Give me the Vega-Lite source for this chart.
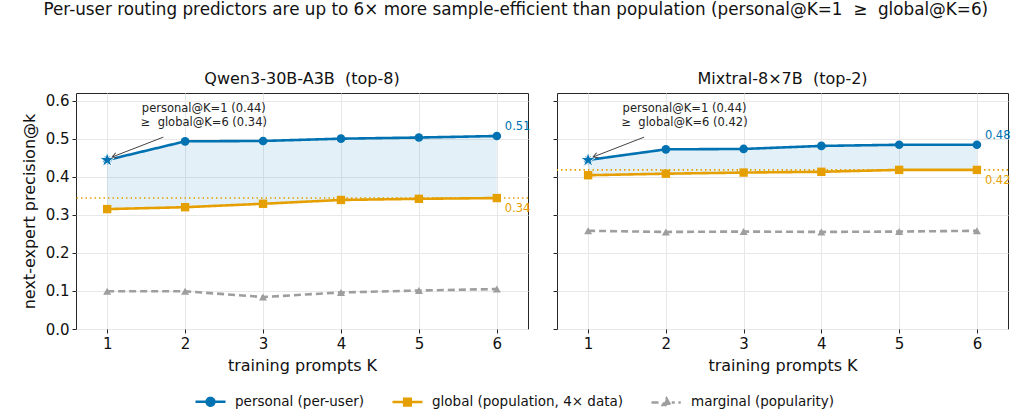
{
  "$schema": "https://vega.github.io/schema/vega-lite/v6.json",
  "background": "white",
  "padding": {"left": 20, "top": 1, "right": 5, "bottom": 0},
  "title": {
    "text": "Per-user routing predictors are up to 6× more sample-efficient than population (personal@K=1 \u00a0≥\u00a0 global@K=6)",
    "fontSize": 16.8,
    "fontWeight": "normal",
    "anchor": "middle",
    "frame": "bounds",
    "offset": 52
  },
  "datasets": {
    "main": [
      {"model": "Qwen3-30B-A3B", "series": "personal", "K": 1, "value": 0.444},
      {"model": "Qwen3-30B-A3B", "series": "personal", "K": 2, "value": 0.493},
      {"model": "Qwen3-30B-A3B", "series": "personal", "K": 3, "value": 0.494},
      {"model": "Qwen3-30B-A3B", "series": "personal", "K": 4, "value": 0.500},
      {"model": "Qwen3-30B-A3B", "series": "personal", "K": 5, "value": 0.503},
      {"model": "Qwen3-30B-A3B", "series": "personal", "K": 6, "value": 0.507},
      {"model": "Qwen3-30B-A3B", "series": "global", "K": 1, "value": 0.315},
      {"model": "Qwen3-30B-A3B", "series": "global", "K": 2, "value": 0.320},
      {"model": "Qwen3-30B-A3B", "series": "global", "K": 3, "value": 0.329},
      {"model": "Qwen3-30B-A3B", "series": "global", "K": 4, "value": 0.339},
      {"model": "Qwen3-30B-A3B", "series": "global", "K": 5, "value": 0.342},
      {"model": "Qwen3-30B-A3B", "series": "global", "K": 6, "value": 0.344},
      {"model": "Qwen3-30B-A3B", "series": "marginal", "K": 1, "value": 0.099},
      {"model": "Qwen3-30B-A3B", "series": "marginal", "K": 2, "value": 0.099},
      {"model": "Qwen3-30B-A3B", "series": "marginal", "K": 3, "value": 0.084},
      {"model": "Qwen3-30B-A3B", "series": "marginal", "K": 4, "value": 0.096},
      {"model": "Qwen3-30B-A3B", "series": "marginal", "K": 5, "value": 0.101},
      {"model": "Qwen3-30B-A3B", "series": "marginal", "K": 6, "value": 0.105},
      {"model": "Mixtral-8x7B", "series": "personal", "K": 1, "value": 0.444},
      {"model": "Mixtral-8x7B", "series": "personal", "K": 2, "value": 0.472},
      {"model": "Mixtral-8x7B", "series": "personal", "K": 3, "value": 0.473},
      {"model": "Mixtral-8x7B", "series": "personal", "K": 4, "value": 0.481},
      {"model": "Mixtral-8x7B", "series": "personal", "K": 5, "value": 0.484},
      {"model": "Mixtral-8x7B", "series": "personal", "K": 6, "value": 0.484},
      {"model": "Mixtral-8x7B", "series": "global", "K": 1, "value": 0.404},
      {"model": "Mixtral-8x7B", "series": "global", "K": 2, "value": 0.408},
      {"model": "Mixtral-8x7B", "series": "global", "K": 3, "value": 0.411},
      {"model": "Mixtral-8x7B", "series": "global", "K": 4, "value": 0.413},
      {"model": "Mixtral-8x7B", "series": "global", "K": 5, "value": 0.418},
      {"model": "Mixtral-8x7B", "series": "global", "K": 6, "value": 0.418},
      {"model": "Mixtral-8x7B", "series": "marginal", "K": 1, "value": 0.258},
      {"model": "Mixtral-8x7B", "series": "marginal", "K": 2, "value": 0.255},
      {"model": "Mixtral-8x7B", "series": "marginal", "K": 3, "value": 0.256},
      {"model": "Mixtral-8x7B", "series": "marginal", "K": 4, "value": 0.255},
      {"model": "Mixtral-8x7B", "series": "marginal", "K": 5, "value": 0.256},
      {"model": "Mixtral-8x7B", "series": "marginal", "K": 6, "value": 0.258}
    ],
    "notes": [
      {"model": "Qwen3-30B-A3B", "tx": 2.24, "ty": 0.577, "ax": 1.72, "ay": 0.504, "hx": 1.065, "hy": 0.452, "note": "personal@K=1 (0.44)\n≥\u00a0 global@K=6 (0.34)"},
      {"model": "Mixtral-8x7B", "tx": 2.24, "ty": 0.577, "ax": 1.72, "ay": 0.504, "hx": 1.065, "hy": 0.452, "note": "personal@K=1 (0.44)\n≥\u00a0 global@K=6 (0.42)"}
    ]
  },
  "spacing": 21,
  "hconcat": [
    {
      "width": 452,
      "height": 236,
      "title": "Qwen3-30B-A3B\u00a0 (top-8)",
      "layer": [
        {
          "data": {"name": "main"},
          "transform": [
            {"filter": "datum.model === 'Qwen3-30B-A3B' && datum.series !== 'marginal'"},
            {"pivot": "series", "value": "value", "groupby": ["K"]}
          ],
          "mark": {"type": "area", "color": "#0072B2", "opacity": 0.11},
          "encoding": {
            "x": {"field": "K", "type": "quantitative", "title": "training prompts K", "scale": {"domain": [0.6, 6.4], "nice": false}, "axis": {"values": [1, 2, 3, 4, 5, 6], "format": "d"}},
            "y": {"field": "personal", "type": "quantitative", "title": "next-expert precision@k", "scale": {"domain": [0, 0.62], "nice": false}, "axis": {"values": [0, 0.1, 0.2, 0.3, 0.4, 0.5, 0.6], "format": ".1f"}},
            "y2": {"field": "global"}
          }
        },
        {
          "data": {"name": "main"},
          "transform": [{"filter": "datum.model === 'Qwen3-30B-A3B' && datum.series === 'global' && datum.K === 6"}],
          "mark": {"type": "rule", "color": "#E69F00", "strokeDash": [1.5, 3], "strokeWidth": 1.6},
          "encoding": {
            "y": {"field": "value", "type": "quantitative", "title": "next-expert precision@k", "scale": {"domain": [0, 0.62], "nice": false}, "axis": {"values": [0, 0.1, 0.2, 0.3, 0.4, 0.5, 0.6], "format": ".1f"}}
          }
        },
        {
          "data": {"name": "main"},
          "transform": [{"filter": "datum.model === 'Qwen3-30B-A3B'"}],
          "mark": {"type": "line", "strokeWidth": 2.6},
          "encoding": {
            "x": {"field": "K", "type": "quantitative", "title": "training prompts K", "scale": {"domain": [0.6, 6.4], "nice": false}, "axis": {"values": [1, 2, 3, 4, 5, 6], "format": "d"}},
            "y": {"field": "value", "type": "quantitative", "title": "next-expert precision@k", "scale": {"domain": [0, 0.62], "nice": false}, "axis": {"values": [0, 0.1, 0.2, 0.3, 0.4, 0.5, 0.6], "format": ".1f"}},
            "color": {
              "field": "series", "type": "nominal",
              "scale": {"domain": ["personal", "global", "marginal"], "range": ["#0072B2", "#E69F00", "#9E9E9E"]},
              "legend": {
                "title": null,
                "orient": "none",
                "legendX": 118,
                "legendY": 292,
                "padding": 0,
                "direction": "horizontal",
                "labelExpr": "datum.label === 'personal' ? 'personal (per-user)' : datum.label === 'global' ? 'global (population, 4× data)' : 'marginal (popularity)'",
                "labelLimit": 400,
                "symbolSize": 900,
                "symbolStrokeWidth": 2.5,
                "labelFontSize": 13.5,
                "labelColor": "#111111",
                "labelOffset": 8,
                "columnPadding": 22,
                "encode": {
                  "symbols": {
                    "update": {
                      "shape": {"signal": "datum.value === 'personal' ? 'M-1,0H1M-0.26,0A0.26,0.26 0 1,1 0.26,0A0.26,0.26 0 1,1 -0.26,0Z' : datum.value === 'global' ? 'M-1,0H1M-0.22,-0.22H0.22V0.22H-0.22Z' : 'M-1,0H-0.4M0.35,0H0.55M0.8,0H0.95M0,-0.26L0.25,0.18H-0.25Z'"},
                      "fill": {"signal": "datum.value === 'personal' ? '#0072B2' : datum.value === 'global' ? '#E69F00' : '#9E9E9E'"},
                      "stroke": {"signal": "datum.value === 'personal' ? '#0072B2' : datum.value === 'global' ? '#E69F00' : '#9E9E9E'"},
                      "opacity": {"value": 1}
                    }
                  }
                }
              }
            },
            "strokeDash": {"field": "series", "type": "nominal", "scale": {"domain": ["personal", "global", "marginal"], "range": [[1, 0], [1, 0], [7, 4]]}, "legend": null}
          }
        },
        {
          "data": {"name": "main"},
          "transform": [{"filter": "datum.model === 'Qwen3-30B-A3B' && datum.series === 'personal'"}],
          "mark": {"type": "point", "shape": "circle", "filled": true, "color": "#0072B2", "size": 75, "opacity": 1},
          "encoding": {
            "x": {"field": "K", "type": "quantitative", "title": "training prompts K", "scale": {"domain": [0.6, 6.4], "nice": false}, "axis": {"values": [1, 2, 3, 4, 5, 6], "format": "d"}},
            "y": {"field": "value", "type": "quantitative", "title": "next-expert precision@k", "scale": {"domain": [0, 0.62], "nice": false}, "axis": {"values": [0, 0.1, 0.2, 0.3, 0.4, 0.5, 0.6], "format": ".1f"}}
          }
        },
        {
          "data": {"name": "main"},
          "transform": [{"filter": "datum.model === 'Qwen3-30B-A3B' && datum.series === 'global'"}],
          "mark": {"type": "point", "shape": "square", "filled": true, "color": "#E69F00", "size": 70, "opacity": 1},
          "encoding": {
            "x": {"field": "K", "type": "quantitative", "title": "training prompts K", "scale": {"domain": [0.6, 6.4], "nice": false}, "axis": {"values": [1, 2, 3, 4, 5, 6], "format": "d"}},
            "y": {"field": "value", "type": "quantitative", "title": "next-expert precision@k", "scale": {"domain": [0, 0.62], "nice": false}, "axis": {"values": [0, 0.1, 0.2, 0.3, 0.4, 0.5, 0.6], "format": ".1f"}}
          }
        },
        {
          "data": {"name": "main"},
          "transform": [{"filter": "datum.model === 'Qwen3-30B-A3B' && datum.series === 'marginal'"}],
          "mark": {"type": "point", "shape": "triangle-up", "filled": true, "color": "#9E9E9E", "size": 65, "opacity": 1},
          "encoding": {
            "x": {"field": "K", "type": "quantitative", "title": "training prompts K", "scale": {"domain": [0.6, 6.4], "nice": false}, "axis": {"values": [1, 2, 3, 4, 5, 6], "format": "d"}},
            "y": {"field": "value", "type": "quantitative", "title": "next-expert precision@k", "scale": {"domain": [0, 0.62], "nice": false}, "axis": {"values": [0, 0.1, 0.2, 0.3, 0.4, 0.5, 0.6], "format": ".1f"}}
          }
        },
        {
          "data": {"name": "main"},
          "transform": [{"filter": "datum.model === 'Qwen3-30B-A3B' && datum.series === 'personal' && datum.K === 1"}],
          "mark": {"type": "point", "filled": true, "color": "#0072B2", "stroke": "white", "strokeWidth": 0.9, "opacity": 1, "size": 250, "shape": "M0,-1L0.2245,-0.309L0.951,-0.309L0.363,0.118L0.588,0.809L0,0.382L-0.588,0.809L-0.363,0.118L-0.951,-0.309L-0.2245,-0.309Z"},
          "encoding": {
            "x": {"field": "K", "type": "quantitative", "title": "training prompts K", "scale": {"domain": [0.6, 6.4], "nice": false}, "axis": {"values": [1, 2, 3, 4, 5, 6], "format": "d"}},
            "y": {"field": "value", "type": "quantitative", "title": "next-expert precision@k", "scale": {"domain": [0, 0.62], "nice": false}, "axis": {"values": [0, 0.1, 0.2, 0.3, 0.4, 0.5, 0.6], "format": ".1f"}}
          }
        },
        {
          "data": {"name": "main"},
          "transform": [{"filter": "datum.model === 'Qwen3-30B-A3B' && datum.series === 'personal' && datum.K === 6"}],
          "mark": {"type": "text", "align": "left", "dx": 8, "dy": -9, "fontSize": 11.5, "color": "#0072B2"},
          "encoding": {
            "x": {"field": "K", "type": "quantitative", "title": "training prompts K", "scale": {"domain": [0.6, 6.4], "nice": false}, "axis": {"values": [1, 2, 3, 4, 5, 6], "format": "d"}},
            "y": {"field": "value", "type": "quantitative", "title": "next-expert precision@k", "scale": {"domain": [0, 0.62], "nice": false}, "axis": {"values": [0, 0.1, 0.2, 0.3, 0.4, 0.5, 0.6], "format": ".1f"}},
            "text": {"field": "value", "type": "quantitative", "format": ".2f"}
          }
        },
        {
          "data": {"name": "main"},
          "transform": [{"filter": "datum.model === 'Qwen3-30B-A3B' && datum.series === 'global' && datum.K === 6"}],
          "mark": {"type": "text", "align": "left", "dx": 8, "dy": 11, "fontSize": 11.5, "color": "#E69F00"},
          "encoding": {
            "x": {"field": "K", "type": "quantitative", "title": "training prompts K", "scale": {"domain": [0.6, 6.4], "nice": false}, "axis": {"values": [1, 2, 3, 4, 5, 6], "format": "d"}},
            "y": {"field": "value", "type": "quantitative", "title": "next-expert precision@k", "scale": {"domain": [0, 0.62], "nice": false}, "axis": {"values": [0, 0.1, 0.2, 0.3, 0.4, 0.5, 0.6], "format": ".1f"}},
            "text": {"field": "value", "type": "quantitative", "format": ".2f"}
          }
        },
        {
          "data": {"name": "notes"},
          "transform": [{"filter": "datum.model === 'Qwen3-30B-A3B'"}],
          "mark": {"type": "rule", "color": "#444444", "strokeWidth": 1},
          "encoding": {
            "x": {"field": "ax", "type": "quantitative", "title": "training prompts K", "scale": {"domain": [0.6, 6.4], "nice": false}, "axis": {"values": [1, 2, 3, 4, 5, 6], "format": "d"}},
            "y": {"field": "ay", "type": "quantitative", "title": "next-expert precision@k", "scale": {"domain": [0, 0.62], "nice": false}, "axis": {"values": [0, 0.1, 0.2, 0.3, 0.4, 0.5, 0.6], "format": ".1f"}},
            "x2": {"field": "hx"},
            "y2": {"field": "hy"}
          }
        },
        {
          "data": {"name": "notes"},
          "transform": [{"filter": "datum.model === 'Qwen3-30B-A3B'"}],
          "mark": {"type": "point", "filled": false, "stroke": "#444444", "strokeWidth": 1, "opacity": 1, "size": 110, "angle": 248.6, "shape": "M-0.5,0.9L0,0L0.5,0.9"},
          "encoding": {
            "x": {"field": "hx", "type": "quantitative", "title": "training prompts K", "scale": {"domain": [0.6, 6.4], "nice": false}, "axis": {"values": [1, 2, 3, 4, 5, 6], "format": "d"}},
            "y": {"field": "hy", "type": "quantitative", "title": "next-expert precision@k", "scale": {"domain": [0, 0.62], "nice": false}, "axis": {"values": [0, 0.1, 0.2, 0.3, 0.4, 0.5, 0.6], "format": ".1f"}}
          }
        },
        {
          "data": {"name": "notes"},
          "transform": [{"filter": "datum.model === 'Qwen3-30B-A3B'"}],
          "mark": {"type": "text", "align": "center", "baseline": "middle", "lineBreak": "\n", "lineHeight": 14, "fontSize": 11.5, "color": "#222222"},
          "encoding": {
            "x": {"field": "tx", "type": "quantitative", "title": "training prompts K", "scale": {"domain": [0.6, 6.4], "nice": false}, "axis": {"values": [1, 2, 3, 4, 5, 6], "format": "d"}},
            "y": {"field": "ty", "type": "quantitative", "title": "next-expert precision@k", "scale": {"domain": [0, 0.62], "nice": false}, "axis": {"values": [0, 0.1, 0.2, 0.3, 0.4, 0.5, 0.6], "format": ".1f"}},
            "text": {"field": "note"}
          }
        }
      ]
    },
    {
      "width": 451,
      "height": 236,
      "title": "Mixtral-8×7B\u00a0 (top-2)",
      "layer": [
        {
          "data": {"name": "main"},
          "transform": [
            {"filter": "datum.model === 'Mixtral-8x7B' && datum.series !== 'marginal'"},
            {"pivot": "series", "value": "value", "groupby": ["K"]}
          ],
          "mark": {"type": "area", "color": "#0072B2", "opacity": 0.11},
          "encoding": {
            "x": {"field": "K", "type": "quantitative", "title": "training prompts K", "scale": {"domain": [0.6, 6.4], "nice": false}, "axis": {"values": [1, 2, 3, 4, 5, 6], "format": "d"}},
            "y": {"field": "personal", "type": "quantitative", "title": null, "scale": {"domain": [0, 0.62], "nice": false}, "axis": {"values": [0, 0.1, 0.2, 0.3, 0.4, 0.5, 0.6], "labels": false}},
            "y2": {"field": "global"}
          }
        },
        {
          "data": {"name": "main"},
          "transform": [{"filter": "datum.model === 'Mixtral-8x7B' && datum.series === 'global' && datum.K === 6"}],
          "mark": {"type": "rule", "color": "#E69F00", "strokeDash": [1.5, 3], "strokeWidth": 1.6},
          "encoding": {
            "y": {"field": "value", "type": "quantitative", "title": null, "scale": {"domain": [0, 0.62], "nice": false}, "axis": {"values": [0, 0.1, 0.2, 0.3, 0.4, 0.5, 0.6], "labels": false}}
          }
        },
        {
          "data": {"name": "main"},
          "transform": [{"filter": "datum.model === 'Mixtral-8x7B'"}],
          "mark": {"type": "line", "strokeWidth": 2.6},
          "encoding": {
            "x": {"field": "K", "type": "quantitative", "title": "training prompts K", "scale": {"domain": [0.6, 6.4], "nice": false}, "axis": {"values": [1, 2, 3, 4, 5, 6], "format": "d"}},
            "y": {"field": "value", "type": "quantitative", "title": null, "scale": {"domain": [0, 0.62], "nice": false}, "axis": {"values": [0, 0.1, 0.2, 0.3, 0.4, 0.5, 0.6], "labels": false}},
            "color": {"field": "series", "type": "nominal", "scale": {"domain": ["personal", "global", "marginal"], "range": ["#0072B2", "#E69F00", "#9E9E9E"]}},
            "strokeDash": {"field": "series", "type": "nominal", "scale": {"domain": ["personal", "global", "marginal"], "range": [[1, 0], [1, 0], [7, 4]]}, "legend": null}
          }
        },
        {
          "data": {"name": "main"},
          "transform": [{"filter": "datum.model === 'Mixtral-8x7B' && datum.series === 'personal'"}],
          "mark": {"type": "point", "shape": "circle", "filled": true, "color": "#0072B2", "size": 75, "opacity": 1},
          "encoding": {
            "x": {"field": "K", "type": "quantitative", "title": "training prompts K", "scale": {"domain": [0.6, 6.4], "nice": false}, "axis": {"values": [1, 2, 3, 4, 5, 6], "format": "d"}},
            "y": {"field": "value", "type": "quantitative", "title": null, "scale": {"domain": [0, 0.62], "nice": false}, "axis": {"values": [0, 0.1, 0.2, 0.3, 0.4, 0.5, 0.6], "labels": false}}
          }
        },
        {
          "data": {"name": "main"},
          "transform": [{"filter": "datum.model === 'Mixtral-8x7B' && datum.series === 'global'"}],
          "mark": {"type": "point", "shape": "square", "filled": true, "color": "#E69F00", "size": 70, "opacity": 1},
          "encoding": {
            "x": {"field": "K", "type": "quantitative", "title": "training prompts K", "scale": {"domain": [0.6, 6.4], "nice": false}, "axis": {"values": [1, 2, 3, 4, 5, 6], "format": "d"}},
            "y": {"field": "value", "type": "quantitative", "title": null, "scale": {"domain": [0, 0.62], "nice": false}, "axis": {"values": [0, 0.1, 0.2, 0.3, 0.4, 0.5, 0.6], "labels": false}}
          }
        },
        {
          "data": {"name": "main"},
          "transform": [{"filter": "datum.model === 'Mixtral-8x7B' && datum.series === 'marginal'"}],
          "mark": {"type": "point", "shape": "triangle-up", "filled": true, "color": "#9E9E9E", "size": 65, "opacity": 1},
          "encoding": {
            "x": {"field": "K", "type": "quantitative", "title": "training prompts K", "scale": {"domain": [0.6, 6.4], "nice": false}, "axis": {"values": [1, 2, 3, 4, 5, 6], "format": "d"}},
            "y": {"field": "value", "type": "quantitative", "title": null, "scale": {"domain": [0, 0.62], "nice": false}, "axis": {"values": [0, 0.1, 0.2, 0.3, 0.4, 0.5, 0.6], "labels": false}}
          }
        },
        {
          "data": {"name": "main"},
          "transform": [{"filter": "datum.model === 'Mixtral-8x7B' && datum.series === 'personal' && datum.K === 1"}],
          "mark": {"type": "point", "filled": true, "color": "#0072B2", "stroke": "white", "strokeWidth": 0.9, "opacity": 1, "size": 250, "shape": "M0,-1L0.2245,-0.309L0.951,-0.309L0.363,0.118L0.588,0.809L0,0.382L-0.588,0.809L-0.363,0.118L-0.951,-0.309L-0.2245,-0.309Z"},
          "encoding": {
            "x": {"field": "K", "type": "quantitative", "title": "training prompts K", "scale": {"domain": [0.6, 6.4], "nice": false}, "axis": {"values": [1, 2, 3, 4, 5, 6], "format": "d"}},
            "y": {"field": "value", "type": "quantitative", "title": null, "scale": {"domain": [0, 0.62], "nice": false}, "axis": {"values": [0, 0.1, 0.2, 0.3, 0.4, 0.5, 0.6], "labels": false}}
          }
        },
        {
          "data": {"name": "main"},
          "transform": [{"filter": "datum.model === 'Mixtral-8x7B' && datum.series === 'personal' && datum.K === 6"}],
          "mark": {"type": "text", "align": "left", "dx": 8, "dy": -9, "fontSize": 11.5, "color": "#0072B2"},
          "encoding": {
            "x": {"field": "K", "type": "quantitative", "title": "training prompts K", "scale": {"domain": [0.6, 6.4], "nice": false}, "axis": {"values": [1, 2, 3, 4, 5, 6], "format": "d"}},
            "y": {"field": "value", "type": "quantitative", "title": null, "scale": {"domain": [0, 0.62], "nice": false}, "axis": {"values": [0, 0.1, 0.2, 0.3, 0.4, 0.5, 0.6], "labels": false}},
            "text": {"field": "value", "type": "quantitative", "format": ".2f"}
          }
        },
        {
          "data": {"name": "main"},
          "transform": [{"filter": "datum.model === 'Mixtral-8x7B' && datum.series === 'global' && datum.K === 6"}],
          "mark": {"type": "text", "align": "left", "dx": 8, "dy": 11, "fontSize": 11.5, "color": "#E69F00"},
          "encoding": {
            "x": {"field": "K", "type": "quantitative", "title": "training prompts K", "scale": {"domain": [0.6, 6.4], "nice": false}, "axis": {"values": [1, 2, 3, 4, 5, 6], "format": "d"}},
            "y": {"field": "value", "type": "quantitative", "title": null, "scale": {"domain": [0, 0.62], "nice": false}, "axis": {"values": [0, 0.1, 0.2, 0.3, 0.4, 0.5, 0.6], "labels": false}},
            "text": {"field": "value", "type": "quantitative", "format": ".2f"}
          }
        },
        {
          "data": {"name": "notes"},
          "transform": [{"filter": "datum.model === 'Mixtral-8x7B'"}],
          "mark": {"type": "rule", "color": "#444444", "strokeWidth": 1},
          "encoding": {
            "x": {"field": "ax", "type": "quantitative", "title": "training prompts K", "scale": {"domain": [0.6, 6.4], "nice": false}, "axis": {"values": [1, 2, 3, 4, 5, 6], "format": "d"}},
            "y": {"field": "ay", "type": "quantitative", "title": null, "scale": {"domain": [0, 0.62], "nice": false}, "axis": {"values": [0, 0.1, 0.2, 0.3, 0.4, 0.5, 0.6], "labels": false}},
            "x2": {"field": "hx"},
            "y2": {"field": "hy"}
          }
        },
        {
          "data": {"name": "notes"},
          "transform": [{"filter": "datum.model === 'Mixtral-8x7B'"}],
          "mark": {"type": "point", "filled": false, "stroke": "#444444", "strokeWidth": 1, "opacity": 1, "size": 110, "angle": 248.6, "shape": "M-0.5,0.9L0,0L0.5,0.9"},
          "encoding": {
            "x": {"field": "hx", "type": "quantitative", "title": "training prompts K", "scale": {"domain": [0.6, 6.4], "nice": false}, "axis": {"values": [1, 2, 3, 4, 5, 6], "format": "d"}},
            "y": {"field": "hy", "type": "quantitative", "title": null, "scale": {"domain": [0, 0.62], "nice": false}, "axis": {"values": [0, 0.1, 0.2, 0.3, 0.4, 0.5, 0.6], "labels": false}}
          }
        },
        {
          "data": {"name": "notes"},
          "transform": [{"filter": "datum.model === 'Mixtral-8x7B'"}],
          "mark": {"type": "text", "align": "center", "baseline": "middle", "lineBreak": "\n", "lineHeight": 14, "fontSize": 11.5, "color": "#222222"},
          "encoding": {
            "x": {"field": "tx", "type": "quantitative", "title": "training prompts K", "scale": {"domain": [0.6, 6.4], "nice": false}, "axis": {"values": [1, 2, 3, 4, 5, 6], "format": "d"}},
            "y": {"field": "ty", "type": "quantitative", "title": null, "scale": {"domain": [0, 0.62], "nice": false}, "axis": {"values": [0, 0.1, 0.2, 0.3, 0.4, 0.5, 0.6], "labels": false}},
            "text": {"field": "note"}
          }
        }
      ]
    }
  ],
  "config": {
    "font": "DejaVu Sans",
    "view": {"stroke": "#262626", "strokeWidth": 1},
    "axis": {
      "grid": true,
      "gridColor": "#e8e8e8",
      "domain": false,
      "tickColor": "#262626",
      "tickSize": 4,
      "labelFontSize": 15,
      "labelColor": "#111111",
      "labelPadding": 3,
      "titleFontSize": 16,
      "titleFontWeight": "normal",
      "titleColor": "#111111"
    },
    "axisY": {"titlePadding": 8},
    "axisX": {"titlePadding": 6},
    "title": {"fontSize": 16, "fontWeight": "normal", "color": "#111111", "offset": 6}
  }
}
